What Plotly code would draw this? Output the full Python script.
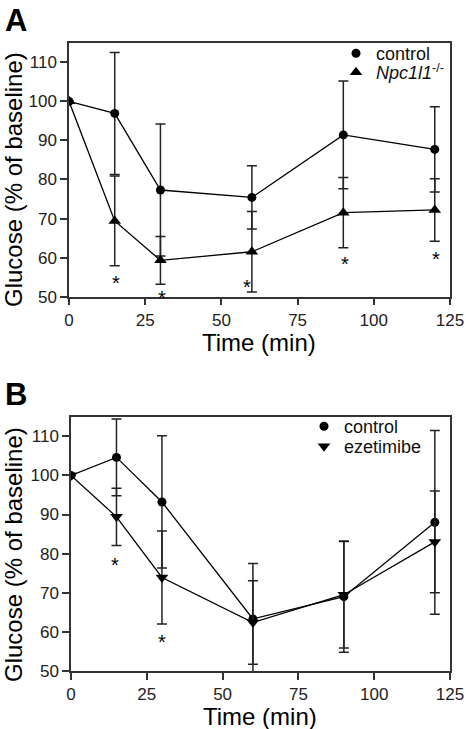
import plotly.graph_objects as go

# ---------------- Data ----------------
time = [0, 15, 30, 60, 90, 120]

# Panel A
a_control = [100, 96.9, 77.3, 75.4, 91.4, 87.7]
a_control_err = [0, 15.6, 16.9, 8.1, 13.8, 10.9]
a_ko = [100, 69.4, 59.3, 61.5, 71.5, 72.2]
a_ko_err = [0, 11.5, 6.1, 10.3, 9.0, 8.0]
a_star_x = [15.5, 30.5, 58.3, 90.5, 120.3]
a_star_y = [54.9, 51.0, 53.8, 59.6, 60.9]

# Panel B
b_control = [100, 104.6, 93.2, 63.3, 69.0, 88.0]
b_control_err = [0, 9.8, 16.9, 14.2, 14.2, 23.5]
b_eze = [100, 89.4, 73.9, 62.4, 69.5, 83.0]
b_eze_err = [0, 7.3, 11.9, 10.7, 13.6, 13.0]
b_star_x = [14.6, 30.0]
b_star_y = [78.3, 58.6]

x_ticks = [0, 25, 50, 75, 100, 125]
y_ticks = [50, 60, 70, 80, 90, 100, 110]

W, H = 466, 729
FONT = "Liberation Sans, Arial, sans-serif"

def px_x(p):
    return p / W

def px_y(p):
    return 1 - p / H

fig = go.Figure()

def add_series(x, y, err, symbol, size, xa, ya, name, legend):
    fig.add_trace(go.Scatter(
        x=x, y=y, mode="lines+markers",
        line=dict(color="black", width=1.3),
        marker=dict(symbol=symbol, size=size, color="black"),
        error_y=dict(type="data", array=err, visible=True, color="#222",
                     thickness=1.5, width=5),
        xaxis=xa, yaxis=ya, showlegend=False, cliponaxis=True,
    ))
    fig.add_trace(go.Scatter(
        x=[None], y=[None], mode="markers",
        marker=dict(symbol=symbol, size=size, color="black"),
        name=name, xaxis=xa, yaxis=ya, showlegend=True, legend=legend,
    ))

add_series(time, a_control, a_control_err, "circle", 9, "x", "y", "control", "legend")
add_series(time, a_ko, a_ko_err, "triangle-up", 11, "x", "y",
           "<i>Npc1l1</i><sup>-/-</sup>", "legend2")
add_series(time, b_control, b_control_err, "circle", 9, "x2", "y2", "control", "legend3")
add_series(time, b_eze, b_eze_err, "triangle-down", 11, "x2", "y2", "ezetimibe", "legend4")

axis_common = dict(
    showline=True, linecolor="#333", linewidth=1.5, mirror=True,
    ticks="outside", ticklen=7, tickwidth=1.5, tickcolor="#333",
    showgrid=False, zeroline=False, automargin=False,
    tickfont=dict(size=17, color="#222", family=FONT),
)

def legend_at(left, top):
    return dict(x=px_x(left), y=px_y(top), xanchor="left", yanchor="top",
                bgcolor="rgba(0,0,0,0)", font=dict(size=18, color="#111", family=FONT),
                itemwidth=30, tracegroupgap=0)

fig.update_layout(
    template="none",
    width=W, height=H,
    margin=dict(l=0, r=0, t=0, b=0, pad=0),
    paper_bgcolor="white", plot_bgcolor="white",
    font=dict(family=FONT, color="black"),
    xaxis=dict(domain=[px_x(69), px_x(450)], range=[0, 125], tickvals=x_ticks,
               anchor="y", **axis_common),
    yaxis=dict(domain=[px_y(296.7), px_y(42.7)], range=[50, 115], tickvals=y_ticks,
               anchor="x", **axis_common),
    xaxis2=dict(domain=[px_x(71), px_x(450)], range=[0, 125], tickvals=x_ticks,
                anchor="y2", **axis_common),
    yaxis2=dict(domain=[px_y(671), px_y(416.7)], range=[50, 115], tickvals=y_ticks,
                anchor="x2", **axis_common),
    legend=legend_at(336, 35),
    legend2=legend_at(336, 54),
    legend3=legend_at(304, 408),
    legend4=legend_at(304, 428),
)

annots = [
    dict(text="<b>A</b>", x=px_x(3), y=px_y(1), xanchor="left", yanchor="top",
         font=dict(size=31, color="black", family=FONT)),
    dict(text="<b>B</b>", x=px_x(3), y=px_y(375), xanchor="left", yanchor="top",
         font=dict(size=31, color="black", family=FONT)),
    dict(text="Time (min)", x=px_x(259), y=px_y(342), xanchor="center", yanchor="middle",
         font=dict(size=24, color="black", family=FONT)),
    dict(text="Time (min)", x=px_x(260), y=px_y(716), xanchor="center", yanchor="middle",
         font=dict(size=24, color="black", family=FONT)),
    dict(text="Glucose (% of baseline)", x=px_x(13), y=px_y(180), textangle=-90,
         xanchor="center", yanchor="middle", font=dict(size=24, color="black", family=FONT)),
    dict(text="Glucose (% of baseline)", x=px_x(13), y=px_y(555), textangle=-90,
         xanchor="center", yanchor="middle", font=dict(size=24, color="black", family=FONT)),
]
for a in annots:
    a.update(xref="paper", yref="paper", showarrow=False)

# significance asterisks, placed in data coordinates
for sx, sy, xr, yr in [(a_star_x, a_star_y, "x", "y"), (b_star_x, b_star_y, "x2", "y2")]:
    for xv, yv in zip(sx, sy):
        annots.append(dict(text="*", x=xv, y=yv, xref=xr, yref=yr, showarrow=False,
                           xanchor="center", yanchor="middle", yshift=-5,
                           font=dict(size=20, color="black", family=FONT)))

fig.update_layout(annotations=annots)

fig.write_html(
    "out.html",
    config={"displayModeBar": False},
    post_script="document.body.style.margin='0';document.body.style.overflow='hidden';",
)
